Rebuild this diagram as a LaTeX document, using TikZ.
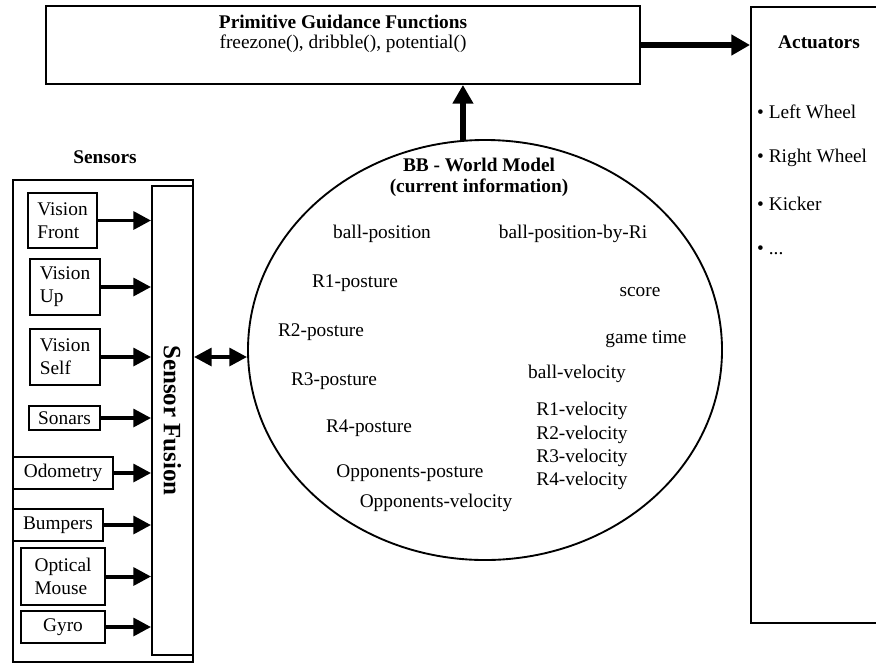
\documentclass[tikz,border=0pt]{standalone}
\usepackage{fontspec}
\setmainfont{Liberation Serif}
\usetikzlibrary{arrows.meta,shapes.geometric}
\begin{document}
\begin{tikzpicture}[x=0.03cm,y=-0.03cm,
  box/.style={draw,line width=1.6pt,inner sep=0pt},
  body/.style={font=\fontsize{16.5}{19.6}\selectfont},
  bodybf/.style={font=\fontsize{16.5}{19.6}\selectfont\bfseries},
  sensor/.style={box,body,align=left},
  item/.style={body,anchor=west,inner sep=0pt},
  info/.style={body,inner sep=0pt},
  feed/.style={line width=3.4pt,-{Triangle[length=15pt,width=15pt]}},
  twoway/.style={line width=3.4pt,{Triangle[length=15pt,width=15pt]}-{Triangle[length=15pt,width=15pt]}},
  bigfeed/.style={line width=4.4pt,-{Triangle[length=16pt,width=17pt]}}]
\useasboundingbox[fill=white] (0,0) rectangle (876,664);
\clip (0,0) rectangle (876,664);

% sensors block
\node[bodybf] (senslabel) at (105,157) {Sensors};
\node[box,minimum width=5.40cm,minimum height=14.46cm] (sensbox) at (103,421) {};
% the fusion bar is turned clockwise: its north side faces right, its south side faces left
\node[box,rotate=-90,minimum width=14.07cm,minimum height=1.23cm,
      font=\fontsize{21.3}{24}\selectfont\bfseries] (fusion) at (172.5,420.5) {Sensor Fusion};

\node[sensor,minimum width=2.07cm,minimum height=1.65cm] (vf) at (62.5,220.5) {Vision\\Front};
\node[sensor,minimum width=2.10cm,minimum height=1.68cm] (vu) at (65,287) {Vision\\Up};
\node[sensor,minimum width=2.10cm,minimum height=1.68cm] (vs) at (65,357) {Vision\\Self};
\node[sensor,minimum width=2.13cm,minimum height=0.72cm] (son) at (64.5,418) {Sonars};
\node[sensor,minimum width=3.00cm,minimum height=0.96cm] (odo) at (63,473) {Odometry};
\node[sensor,minimum width=2.70cm,minimum height=0.96cm] (bump) at (58,525) {Bumpers};
\node[sensor,minimum width=2.52cm,minimum height=1.71cm] (mouse) at (63,576.5) {Optical\\Mouse};
\node[sensor,minimum width=2.52cm,minimum height=0.96cm] (gyro) at (63,627) {Gyro};

\foreach \s in {vf,vu,vs,son,odo,bump,mouse,gyro}
  \draw[feed] (\s.east) -- (\s.east -| fusion.south);

% primitive guidance functions
\node[box,minimum width=17.82cm,minimum height=2.34cm] (pgf) at (343,45) {};
\node[bodybf] (pgftitle) at (343,22) {Primitive Guidance Functions};
\node[body] (pgfcalls) at (343,44) {freezone(), dribble(), potential()};

% actuators
\node[box,minimum width=3.87cm,minimum height=18.48cm] (act) at (815.5,315) {};
\node[bodybf] (acttitle) at (819,42) {Actuators};
\node[item] (a1) at (757,112) {• Left Wheel};
\node[item] (a2) at (757,158) {• Right Wheel};
\node[item] (a3) at (757,204) {• Kicker};
\node[item] (a4) at (757,250) {• ...};

% blackboard world model
\node[draw,ellipse,line width=1.6pt,inner sep=0pt,minimum width=14.22cm,minimum height=12.60cm] (wm) at (485,350) {};
\node[bodybf] (wmt1) at (479,165) {BB - World Model};
\node[bodybf] (wmt2) at (479,188) {(current information)};
\node[info] (i1) at (382,234) {ball-position};
\node[info] (i2) at (573,234) {ball-position-by-Ri};
\node[info] (i3) at (355,283) {R1-posture};
\node[info] (i4) at (640,292) {score};
\node[info] (i5) at (321,332) {R2-posture};
\node[info] (i6) at (646,339) {game time};
\node[info] (i7) at (577,374) {ball-velocity};
\node[info] (i8) at (334,381) {R3-posture};
\node[info] (i9) at (582,411) {R1-velocity};
\node[info] (i10) at (369,428) {R4-posture};
\node[info] (i11) at (582,435) {R2-velocity};
\node[info] (i12) at (582,458) {R3-velocity};
\node[info] (i13) at (410,473) {Opponents-posture};
\node[info] (i14) at (582,481) {R4-velocity};
\node[info] (i15) at (436,503) {Opponents-velocity};

% connectors
\draw[twoway] (vs.east -| fusion.north) -- (vs.east -| wm.west);
\draw[bigfeed] (wm.96) -- (wm.96 |- pgf.south);
\draw[bigfeed] (pgf.east) -- (pgf.east -| act.west);
\end{tikzpicture}
\end{document}
